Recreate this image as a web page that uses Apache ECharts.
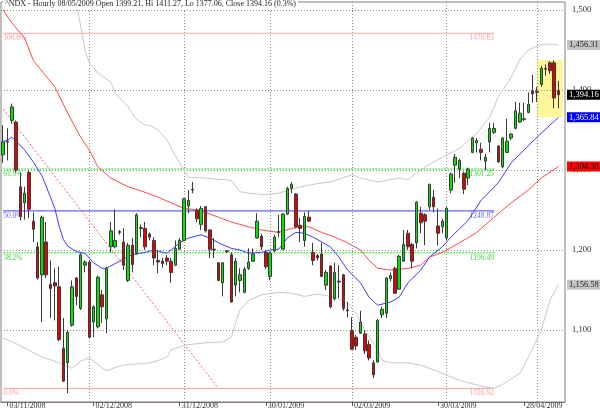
<!DOCTYPE html>
<html><head><meta charset="utf-8">
<script src="https://cdn.jsdelivr.net/npm/echarts@6/dist/echarts.min.js"></script>
<style>html,body{margin:0;padding:0;background:#fff}#c{width:600px;height:410px}</style>
</head><body><div id="c"></div>
<script>
// ---------- DATA ----------
const titleText = '^NDX - Hourly 08/05/2009 Open 1399.21, Hi 1411.27, Lo 1377.06, Close 1394.16 (0.3%)';
// trading days by month (dd lists), one candle per day
const monthDays = [
  ['10/2008', [31]],
  ['11/2008', [3,4,5,6,7,10,11,12,13,14,17,18,19,20,21,24,25,26,28]],
  ['12/2008', [1,2,3,4,5,8,9,10,11,12,15,16,17,18,19,22,23,24,26,29,30,31]],
  ['01/2009', [2,5,6,7,8,9,12,13,14,15,16,20,21,22,23,26,27,28,29,30]],
  ['02/2009', [2,3,4,5,6,9,10,11,12,13,17,18,19,20,23,24,25,26,27]],
  ['03/2009', [2,3,4,5,6,9,10,11,12,13,16,17,18,19,20,23,24,25,26,27,30,31]],
  ['04/2009', [1,2,3,6,7,8,9,13,14,15,16,17,20,21,22,23,24,27,28,29,30]],
  ['05/2009', [1,4,5,6,7,8]]
];
const tickLabels = ['03/11/2008','02/12/2008','31/12/2008','30/01/2009','02/03/2009','30/03/2009','28/04/2009'];
const monthGrid = ['01/12/2008','02/01/2009','02/02/2009','02/03/2009','01/04/2009','01/05/2009'];
const yTicks = [1100, 1200, 1300, 1400, 1500];

// [open, close, low, high]
const ohlc = [
[1319,1335,1309,1356],[1335,1336,1312,1352],[1362,1379,1358,1383],[1360,1300,1297,1362],[1279,1242,1237,1297],
[1259,1271,1238,1279],[1297,1251,1240,1300],[1236,1226,1210,1247],[1204,1165,1163,1210],[1169,1241,1110,1243],
[1210,1169,1165,1235],[1157,1152,1115,1187],[1159,1155,1112,1177],[1154,1088,1086,1179],[1077,1036,1035,1115],
[1059,1097,1021,1100],[1106,1154,1104,1162],[1165,1142,1131,1166],[1127,1194,1125,1196],[1181,1185,1172,1187],
[1185,1091,1090,1187],[1110,1129,1091,1131],[1104,1166,1102,1168],[1144,1129,1109,1150],[1114,1177,1096,1179],
[1204,1224,1197,1235],[1204,1212,1202,1251],[1223,1222,1219,1225],[1210,1181,1175,1227],[1162,1206,1160,1209],
[1206,1182,1172,1215],[1196,1244,1194,1246],[1228,1227,1216,1232],[1227,1204,1200,1235],[1220,1216,1212,1222],
[1212,1190,1181,1216],[1187,1185,1171,1200],[1186,1183,1178,1190],[1190,1186,1181,1194],[1186,1172,1159,1190],
[1181,1202,1180,1212],[1201,1212,1200,1215],[1212,1264,1211,1265],[1255,1262,1246,1275],[1275,1276,1271,1285],
[1250,1239,1235,1252],[1232,1252,1225,1255],[1254,1224,1222,1255],[1225,1201,1190,1226],[1201,1200,1190,1215],
[1184,1162,1161,1185],[1159,1184,1142,1185],[1199,1198,1196,1200],[1194,1135,1134,1197],[1156,1186,1142,1190],
[1162,1169,1147,1177],[1147,1176,1146,1179],[1177,1185,1175,1202],[1186,1195,1185,1202],[1215,1236,1214,1246],
[1217,1204,1200,1220],[1197,1179,1176,1200],[1167,1196,1162,1198],[1199,1216,1197,1219],[1222,1223,1216,1244],
[1201,1245,1200,1246],[1245,1277,1244,1279],[1277,1282,1271,1285],[1270,1229,1227,1271],[1231,1227,1210,1240],
[1212,1242,1204,1247],[1241,1236,1235,1249],[1197,1187,1181,1209],[1193,1190,1187,1195],[1195,1167,1166,1209],
[1156,1172,1150,1175],[1180,1129,1127,1181],[1139,1172,1137,1184],[1160,1161,1140,1181],[1169,1127,1124,1170],
[1125,1124,1116,1135],[1099,1076,1075,1116],[1091,1080,1075,1094],[1096,1110,1095,1124],[1095,1074,1070,1100],
[1082,1065,1062,1087],[1059,1044,1040,1062],[1060,1112,1059,1114],[1119,1126,1115,1129],[1121,1165,1115,1166],
[1164,1168,1161,1172],[1177,1146,1145,1179],[1151,1192,1150,1194],[1186,1207,1185,1225],[1221,1204,1200,1225],
[1207,1186,1177,1209],[1209,1260,1202,1261],[1246,1234,1221,1254],[1244,1236,1206,1246],[1254,1282,1250,1283],
[1266,1254,1247,1275],[1230,1221,1206,1252],[1229,1236,1221,1239],[1215,1252,1212,1254],[1275,1295,1271,1297],
[1306,1316,1284,1320],[1301,1312,1290,1314],[1296,1276,1270,1298],[1290,1301,1281,1303],[1322,1340,1321,1341],
[1334,1337,1322,1340],[1326,1322,1312,1334],[1311,1316,1300,1320],[1335,1352,1322,1359],[1347,1352,1345,1359],
[1330,1310,1309,1331],[1304,1340,1302,1341],[1322,1336,1321,1364],[1340,1345,1337,1346],[1352,1374,1351,1385],
[1360,1371,1359,1384],[1364,1363,1361,1384],[1372,1382,1371,1397],[1399,1395,1384,1419],[1398,1397,1385,1404],
[1407,1427,1404,1430],[1427,1426,1418,1432],[1434,1424,1420,1436],[1434,1390,1377,1437],[1399.21,1394.16,1377.06,1411.27]
];

// [candle index, value]
const maFast = [[0,1336],[1,1337],[2,1341],[3,1336],[5,1325],[7,1310],[9,1293],[11,1266],[12,1252],[13,1230],[14,1213],[15,1205],[17,1198],[19,1196],[21,1184],[23,1177],[24,1177],[26,1183],[28,1189],[30,1194],[33,1197],[35,1200],[38,1196],[39,1200],[41,1209],[43,1215],[46,1219],[48,1215],[50,1209],[53,1202],[55,1200],[57,1196],[60,1197],[62,1200],[64,1201],[66,1215],[68,1222],[70,1221],[72,1216],[74,1210],[76,1204],[78,1191],[80,1175],[83,1159],[85,1141],[87,1131],[90,1135],[92,1141],[94,1159],[97,1175],[99,1191],[102,1204],[104,1216],[108,1237],[111,1262],[115,1284],[118,1309],[121,1325],[124,1341],[127,1356],[129,1365.84]];
const maSlow = [[0,1500],[2,1484],[5,1465],[7,1437],[12,1404],[15,1371],[18,1341],[20,1325],[22,1304],[25,1290],[29,1279],[32,1274],[36,1266],[39,1259],[42,1252],[45,1250],[47,1247],[50,1241],[53,1235],[57,1229],[60,1225],[64,1222],[67,1227],[69,1229],[71,1229],[74,1222],[77,1216],[80,1209],[83,1200],[85,1187],[87,1177],[90,1175],[94,1177],[97,1181],[99,1191],[102,1197],[106,1209],[110,1222],[114,1241],[118,1259],[122,1275],[125,1290],[129,1304.38]];
const upperBand = [[15,1530],[17,1509],[18,1480],[19,1450],[20,1434],[22,1421],[25,1410],[26,1396],[29,1379],[31,1363],[33,1356],[34,1356],[36,1350],[38,1338],[40,1318],[41,1309],[43,1291],[47,1290],[53,1287],[55,1273],[57,1271],[61,1269],[64,1271],[69,1279],[73,1283],[76,1285],[81,1294],[83,1290],[87,1285],[92,1290],[94,1288],[96,1296],[98,1304],[102,1316],[106,1327],[110,1346],[113,1366],[115,1391],[118,1416],[120,1438],[122,1450],[124,1455],[126,1457.5],[128,1457],[129,1456.31]];
const lowerBand = [[0,1090],[3,1083],[7,1072],[9,1066],[11,1063],[13,1059],[16,1052],[18,1061],[20,1065],[22,1057],[24,1049],[27,1055],[29,1057],[33,1058],[35,1060],[38,1066],[39,1075],[42,1081],[47,1084],[51,1085],[53,1091],[54,1109],[55,1125],[57,1137],[60,1144],[64,1147],[67,1146],[70,1142],[73,1145],[77,1141],[80,1134],[82,1121],[84,1100],[87,1075],[88,1062],[90,1059],[94,1059],[97,1056],[101,1048],[106,1037],[111,1030],[114,1027],[116,1032],[120,1046],[122,1066],[125,1100],[127,1137],[129,1156.58]];

const fibPct = ['100.0%', '61.8%', '50.0%', '38.2%', '0.0%'];
const fibVal = [1470.83, 1301.25, 1248.87, 1196.49, 1026.92];
const fibEnd = 114;                       // candle index where the levels stop
const trendLine = [[0, 1376], [50, 1027]]; // dashed red line
const highlight = [[124, 1437.5], [130, 1366]];

// ---------- CHART ----------
const categories = [];
monthDays.forEach(([my, days]) => days.forEach(d => categories.push((d < 10 ? '0' : '') + d + '/' + my)));
categories.push(''); // one empty slot on the right

const SERIF = '"Liberation Serif", "DejaVu Serif", serif';
function fmt2(v) {
  const s = v.toFixed(2).split('.');
  return s[0].replace(/\B(?=(\d{3})+(?!\d))/g, ',') + '.' + s[1];
}
const idxOf = d => categories.indexOf(d);
const last = a => a[a.length - 1][1];

const fibStyles = [
  {line: {color: '#ffa8a8', type: 'solid', width: 1}, text: '#ffa0a0'},
  {line: {color: '#22ee22', type: [2, 1], width: 1}, text: '#44d044'},
  {line: {color: '#3c3cff', type: 'solid', width: 1}, text: '#6a6ae0'},
  {line: {color: '#22ee22', type: [2, 1], width: 1}, text: '#44d044'},
  {line: {color: '#ffa8a8', type: 'solid', width: 1}, text: '#ffa0a0'}
];

function markerSeries(z, markLine) {
  return {type: 'line', data: [], silent: true, z, animation: false,
    markLine: Object.assign({silent: true, z, symbol: ['none', 'none'], animation: false}, markLine)};
}

const fibSeries = [];
fibVal.forEach((v, i) => {
  const st = fibStyles[i];
  // the level line itself, drawn through the axes as a two-point line
  fibSeries.push({type: 'line', data: [[0, v], [fibEnd, v]], symbol: 'none', silent: true, z: 1,
    animation: false, lineStyle: st.line});
  const seg = () => [[{coord: [0, v]}, {coord: [fibEnd, v]}]];
  fibSeries.push(markerSeries(1, {lineStyle: {color: 'rgba(0,0,0,0)', width: 1},
    label: {show: true, position: 'insideStartBottom', formatter: fibPct[i], color: st.text, fontSize: 7.5, fontFamily: SERIF, distance: [0, 1]},
    data: seg()}));
  fibSeries.push(markerSeries(1, {lineStyle: {color: 'rgba(0,0,0,0)', width: 1},
    label: {show: true, position: 'insideEndBottom', formatter: v.toFixed(2), color: st.text, fontSize: 7.5, fontFamily: SERIF, distance: [0, 1]},
    data: seg()}));
});
const trendSeries = {type: 'line', data: trendLine, symbol: 'none', silent: true, z: 1, animation: false,
  lineStyle: {color: '#ff5a5a', type: [2, 2], width: 1}};

const tags = [
  {v: last(upperBand), bg: '#c4c4c4', fg: '#222'},
  {v: ohlc[ohlc.length - 1][1], bg: '#000', fg: '#fff'},
  {v: last(maFast), bg: '#0000ff', fg: '#fff'},
  {v: last(maSlow), bg: '#ff0000', fg: '#000'},
  {v: last(lowerBand), bg: '#c4c4c4', fg: '#222'}
];
const tagSeries = tags.map(t => markerSeries(6, {
  lineStyle: {color: 'rgba(0,0,0,0)', width: 1},
  label: {show: true, position: 'end', distance: 2, formatter: fmt2(t.v), color: t.fg, backgroundColor: t.bg,
    padding: [1, 2, 0, 2], fontFamily: SERIF, fontSize: 8.5, lineHeight: 9},
  data: [{yAxis: t.v}]}));

const gridItems = [
  ...yTicks.map(v => ({yAxis: v})),
  ...monthGrid.map(d => ({xAxis: idxOf(d)}))
];

const lineSeries = (data, color) => ({
  type: 'line', data, symbol: 'none', silent: true, z: 2,
  lineStyle: {color, width: 1}, animation: false
});

const chart = echarts.init(document.getElementById('c'), null, {renderer: 'canvas'});
chart.setOption({
  animation: false,
  backgroundColor: '#fff',
  title: {
    text: titleText, left: 3, top: -1, padding: [1, 2], backgroundColor: '#fff',
    textStyle: {fontFamily: SERIF, fontSize: 8, fontWeight: 'normal', color: '#222'}
  },
  grid: {left: 1, top: 2, width: 564, height: 400, show: true, borderColor: '#808080', borderWidth: 1, backgroundColor: 'transparent'},
  xAxis: {
    type: 'category', data: categories, boundaryGap: true,
    axisLine: {show: true, lineStyle: {color: '#808080'}},
    axisTick: {show: true, alignWithLabel: true, length: 4, lineStyle: {color: '#555'},
      interval: (i, v) => tickLabels.indexOf(v) >= 0},
    axisLabel: {interval: (i, v) => tickLabels.indexOf(v) >= 0, align: 'left', margin: 0, padding: [0, 0, 0, 2],
      fontFamily: SERIF, fontSize: 8, color: '#333'},
    splitLine: {show: false}
  },
  yAxis: {
    type: 'value', position: 'right', min: 1010, max: 1510,
    axisLine: {show: false}, axisTick: {show: false}, splitLine: {show: false},
    axisLabel: {customValues: yTicks, margin: 7, fontFamily: SERIF, fontSize: 8.5, color: '#333',
      formatter: v => v.toFixed(0).replace(/\B(?=(\d{3})+(?!\d))/g, ',')}
  },
  series: [
    {type: 'line', data: [], silent: true, z: 0, animation: false,
     markArea: {silent: true, z: 0, itemStyle: {color: '#fff79a'},
       data: [[{coord: highlight[0]}, {coord: highlight[1]}]]}},
    markerSeries(1, {lineStyle: {color: '#8c8c8c', type: [1, 2], width: 1}, label: {show: false}, data: gridItems}),
    ...fibSeries,
    trendSeries,
    lineSeries(upperBand, '#c8c8c8'),
    lineSeries(lowerBand, '#c8c8c8'),
    lineSeries(maSlow, '#ff4a4a'),
    lineSeries(maFast, '#3c3cff'),
    {type: 'candlestick', data: ohlc, barWidth: 3, z: 3, silent: true,
     itemStyle: {color: '#00e600', color0: '#e60000', borderColor: '#3a3a3a', borderColor0: '#3a3a3a', borderWidth: 1}},
    ...tagSeries
  ]
});
</script></body></html>
